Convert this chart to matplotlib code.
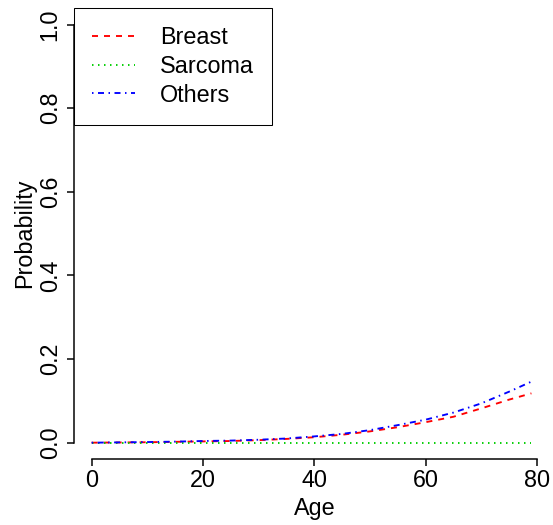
import matplotlib
matplotlib.use("Agg")
import matplotlib.pyplot as plt

plt.rcParams['font.family'] = ['Liberation Sans', 'DejaVu Sans']

# values (probability by age)
ages = [0, 5, 10, 15, 20, 25, 30, 35, 40, 45, 50, 55, 60, 65, 70, 75, 79]
breast = [0.000, 0.0005, 0.001, 0.002, 0.003, 0.004, 0.006, 0.009, 0.013,
          0.019, 0.027, 0.037, 0.049, 0.062, 0.082, 0.103, 0.118]
sarcoma = [0.0] * len(ages)
others = [0.000, 0.0007, 0.0015, 0.0025, 0.004, 0.005, 0.007, 0.010, 0.015,
          0.021, 0.030, 0.042, 0.055, 0.072, 0.094, 0.122, 0.146]

labels = ['Breast', 'Sarcoma', 'Others']
colors = ['#FF0000', '#00CD00', '#0000FF']

xticks = [0, 20, 40, 60, 80]
yticks = [0.0, 0.2, 0.4, 0.6, 0.8, 1.0]

fs = 16.8
lw = 1.08     # axis lines
clw = 1.35    # curve lines
u = 0.8       # dash unit, so that patterns match R's lty in pixels

fig = plt.figure(figsize=(5.53, 5.25), dpi=100)
ax = fig.add_axes([73.8 / 553, 1 - 459.4 / 525, 481 / 553, 451.6 / 525])

l1, = ax.plot(ages, breast, color=colors[0], lw=clw, dashes=(4 * u, 4 * u))
l2, = ax.plot(ages, sarcoma, color=colors[1], lw=clw, dashes=(1 * u, 3 * u))
l3, = ax.plot(ages, others, color=colors[2], lw=clw,
              dashes=(1 * u, 3 * u, 4 * u, 3 * u))

ax.set_xlim(-3.2, 83.2)
ax.set_ylim(-0.04, 1.04)
ax.set_xticks(xticks)
ax.set_xticklabels([str(t) for t in xticks])
ax.set_yticks(yticks)
ax.set_yticklabels(['%.1f' % t for t in yticks], rotation=90, va='center')

for s in ['top', 'right']:
    ax.spines[s].set_visible(False)
ax.spines['left'].set_bounds(0, 1)
ax.spines['bottom'].set_bounds(0, 80)
for s in ['left', 'bottom']:
    ax.spines[s].set_linewidth(lw)
    ax.spines[s].set_color('black')

ax.tick_params(axis='both', length=5.2, width=lw, direction='out',
               labelsize=fs, colors='black')
ax.tick_params(axis='x', pad=2)
ax.tick_params(axis='y', pad=3.5)

ax.set_xlabel('Age', fontsize=fs, labelpad=3)
ax.set_ylabel('Probability', fontsize=fs, labelpad=2)

leg = ax.legend([l1, l2, l3], labels, loc='upper left', bbox_to_anchor=(0, 1),
                borderaxespad=0, fontsize=fs, frameon=True, fancybox=False,
                handlelength=1.85, handletextpad=1.05, borderpad=0.78,
                labelspacing=0.25)
leg.get_frame().set_edgecolor('black')
leg.get_frame().set_linewidth(0.75)
leg.get_frame().set_alpha(1)

fig.savefig('out.png', dpi=100)
